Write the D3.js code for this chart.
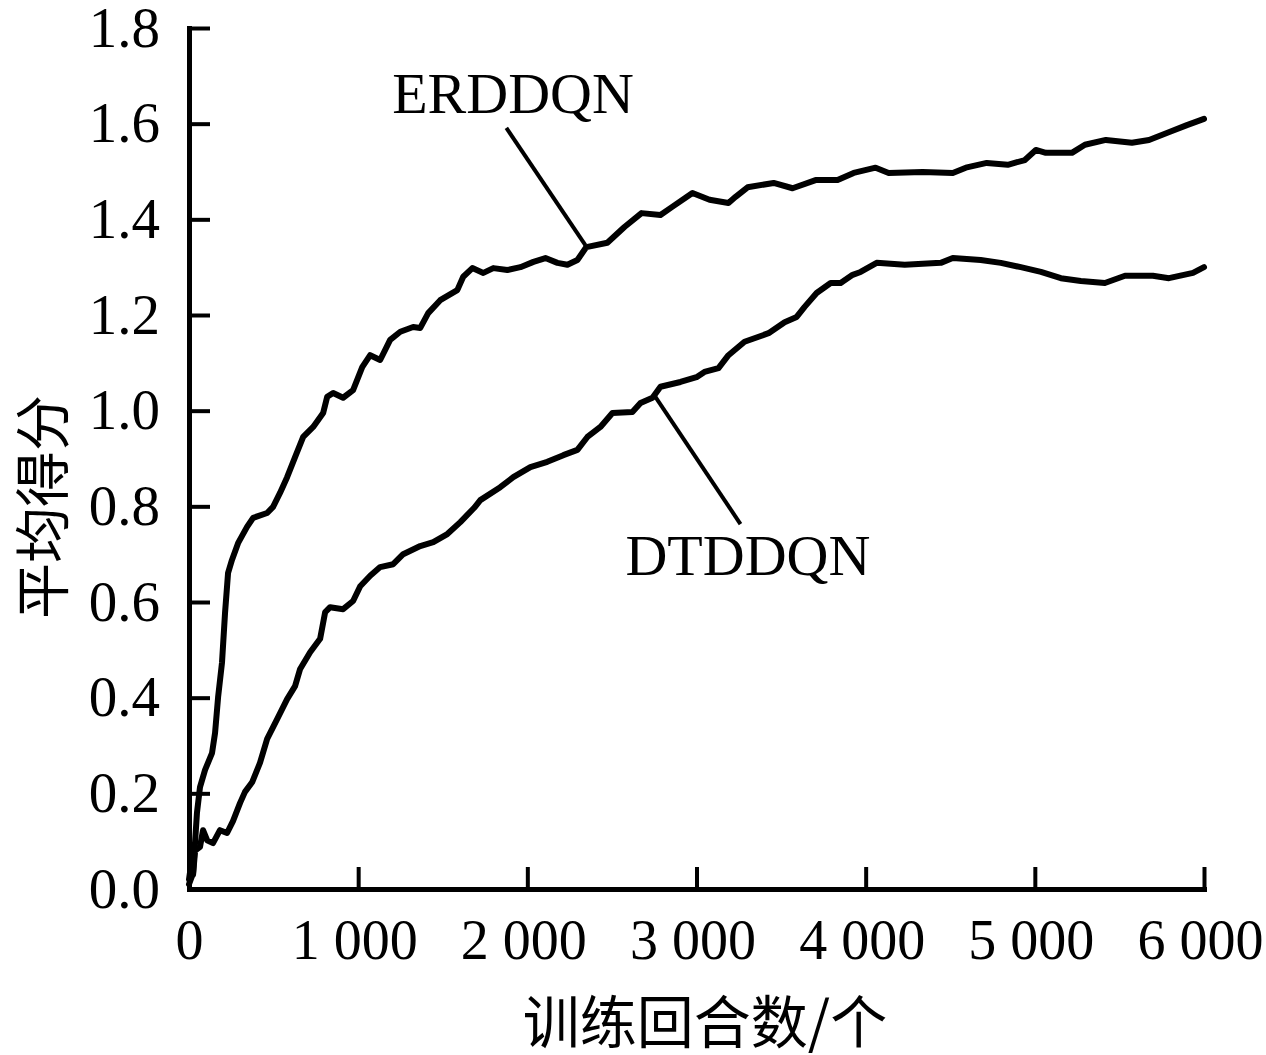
<!DOCTYPE html>
<html>
<head>
<meta charset="utf-8">
<script src="https://cdn.jsdelivr.net/npm/d3@7/dist/d3.min.js"></script>
<style>
  html, body { margin: 0; padding: 0; background: #fff; }
  svg { display: block; }
</style>
</head>
<body>
<svg id="chart" width="1266" height="1055"></svg>
<script>
// ---- data ----
const xTicks = [0, 1000, 2000, 3000, 4000, 5000, 6000];
const xTickLabels = ["0", "1 000", "2 000", "3 000", "4 000", "5 000", "6 000"];
const yTicks = [0, 0.2, 0.4, 0.6, 0.8, 1.0, 1.2, 1.4, 1.6, 1.8];
const yTickLabels = ["0.0", "0.2", "0.4", "0.6", "0.8", "1.0", "1.2", "1.4", "1.6", "1.8"];
const xTitle = "训练回合数/个";
const yTitle = "平均得分";

const erddqnX = [0, 24, 47, 65, 95, 136, 154, 172, 195, 213, 231, 254, 290, 343, 379, 462, 497, 538, 580, 627, 675, 734, 793, 817, 852, 911, 970, 1024, 1071, 1130, 1189, 1249, 1325, 1367, 1414, 1485, 1586, 1621, 1675, 1740, 1799, 1882, 1959, 2036, 2107, 2178, 2237, 2296, 2349, 2473, 2574, 2675, 2787, 2852, 2976, 3077, 3189, 3231, 3302, 3456, 3568, 3704, 3834, 3929, 4059, 4136, 4337, 4515, 4592, 4716, 4840, 4941, 5006, 5065, 5219, 5296, 5420, 5574, 5675, 5799, 5899, 6000];
const erddqnY = [0.01, 0.033, 0.159, 0.213, 0.249, 0.284, 0.326, 0.401, 0.473, 0.577, 0.661, 0.688, 0.723, 0.757, 0.776, 0.786, 0.799, 0.828, 0.861, 0.903, 0.945, 0.966, 0.995, 1.029, 1.037, 1.027, 1.043, 1.091, 1.116, 1.106, 1.148, 1.165, 1.175, 1.173, 1.204, 1.231, 1.252, 1.280, 1.298, 1.288, 1.298, 1.294, 1.300, 1.311, 1.319, 1.309, 1.305, 1.315, 1.342, 1.351, 1.384, 1.413, 1.409, 1.425, 1.455, 1.441, 1.434, 1.447, 1.467, 1.476, 1.465, 1.482, 1.482, 1.497, 1.508, 1.497, 1.499, 1.497, 1.508, 1.518, 1.514, 1.524, 1.545, 1.539, 1.539, 1.556, 1.566, 1.560, 1.566, 1.583, 1.597, 1.610];

const dtddqnX = [0, 12, 24, 36, 65, 83, 107, 142, 183, 225, 260, 302, 331, 373, 420, 462, 521, 580, 627, 657, 716, 775, 805, 834, 911, 970, 1012, 1071, 1130, 1207, 1266, 1367, 1444, 1527, 1604, 1686, 1722, 1840, 1917, 2018, 2118, 2213, 2296, 2355, 2432, 2503, 2621, 2669, 2740, 2787, 2905, 3000, 3047, 3130, 3189, 3284, 3426, 3521, 3592, 3639, 3710, 3793, 3852, 3923, 3970, 4065, 4231, 4444, 4515, 4680, 4799, 4917, 5036, 5154, 5272, 5414, 5533, 5698, 5793, 5935, 6000];
const dtddqnY = [0.02, 0.05, 0.03, 0.08, 0.088, 0.123, 0.102, 0.096, 0.123, 0.117, 0.142, 0.180, 0.203, 0.223, 0.264, 0.314, 0.355, 0.397, 0.424, 0.460, 0.495, 0.523, 0.579, 0.589, 0.585, 0.602, 0.633, 0.655, 0.673, 0.679, 0.700, 0.717, 0.725, 0.742, 0.767, 0.797, 0.813, 0.840, 0.861, 0.882, 0.893, 0.907, 0.918, 0.945, 0.966, 0.995, 0.997, 1.016, 1.027, 1.050, 1.060, 1.070, 1.081, 1.089, 1.116, 1.144, 1.162, 1.185, 1.196, 1.217, 1.246, 1.267, 1.267, 1.284, 1.290, 1.309, 1.305, 1.309, 1.319, 1.315, 1.309, 1.300, 1.290, 1.277, 1.271, 1.267, 1.282, 1.282, 1.277, 1.288, 1.300];

const seriesNames = ["ERDDQN", "DTDDQN"];
// annotation anchors in data units: [label x, label y, leader start x, y, leader end x, y]
const erddqnNote = [1201, 1.622, 1876, 1.591, 2343, 1.346];
const dtddqnNote = [2580, 0.656, 2757, 1.029, 3260, 0.763];

// ---- layout ----
const W = 1266, H = 1055;
const margin = { left: 189, top: 28, right: 62, bottom: 166 };
const iw = W - margin.left - margin.right;
const ih = H - margin.top - margin.bottom;
const serif = "'Liberation Serif', 'Times New Roman', serif";
const cjk = "'Noto Sans CJK SC', 'Noto Sans CJK JP', sans-serif";

const svg = d3.select("#chart");
const g = svg.append("g").attr("transform", `translate(${margin.left},${margin.top})`);

const x = d3.scaleLinear().domain([0, 6000]).range([0, iw]);
const y = d3.scaleLinear().domain([0, 1.8]).range([ih, 0]);

// curves
const line = d3.line().x(d => x(d[0])).y(d => y(d[1])).curve(d3.curveLinear);
const erd = erddqnX.map((v, i) => [v, erddqnY[i]]);
const dtd = dtddqnX.map((v, i) => [v, dtddqnY[i]]);
[erd, dtd].forEach(s => {
  g.append("path").datum(s).attr("d", line)
    .attr("fill", "none").attr("stroke", "#000").attr("stroke-width", 6)
    .attr("stroke-linejoin", "round").attr("stroke-linecap", "round");
});

// axes
const xAxis = d3.axisBottom(x).tickValues(xTicks)
  .tickFormat((d, i) => xTickLabels[i]).tickSizeInner(-22).tickSizeOuter(0).tickPadding(30);
const yAxis = d3.axisLeft(y).tickValues(yTicks)
  .tickFormat((d, i) => yTickLabels[i]).tickSizeInner(-21).tickSizeOuter(0).tickPadding(29);

const gx = g.append("g").attr("transform", `translate(0,${ih})`).call(xAxis);
const gy = g.append("g").call(yAxis);
[gx, gy].forEach(a => {
  a.select(".domain").attr("stroke", "#000").attr("stroke-width", 5).attr("stroke-linecap", "square");
  a.selectAll(".tick line").attr("stroke", "#000").attr("stroke-width", 4);
  a.selectAll(".tick text").attr("fill", "#000")
    .style("font-family", serif).style("font-size", "57px");
});
gx.selectAll(".tick text").attr("dx", (d, i) => i === 0 ? 0 : -4).style("font-size", "56px");

// annotations
[[erddqnNote, seriesNames[0]], [dtddqnNote, seriesNames[1]]].forEach(([n, name]) => {
  g.append("line")
    .attr("x1", x(n[2])).attr("y1", y(n[3])).attr("x2", x(n[4])).attr("y2", y(n[5]))
    .attr("stroke", "#000").attr("stroke-width", 4);
  g.append("text").attr("x", x(n[0])).attr("y", y(n[1]))
    .style("font-family", serif).style("font-size", "58px").attr("fill", "#000")
    .text(name);
});

// axis titles
svg.append("text")
  .attr("transform", `translate(38,507) rotate(-90)`)
  .attr("text-anchor", "middle").attr("dominant-baseline", "central")
  .style("font-family", cjk).style("font-size", "56px").attr("fill", "#000")
  .text(yTitle);
svg.append("text")
  .attr("x", 705).attr("y", 1018)
  .attr("text-anchor", "middle").attr("dominant-baseline", "central")
  .style("font-family", cjk).style("font-size", "57px").attr("fill", "#000")
  .text(xTitle);
</script>
</body>
</html>
